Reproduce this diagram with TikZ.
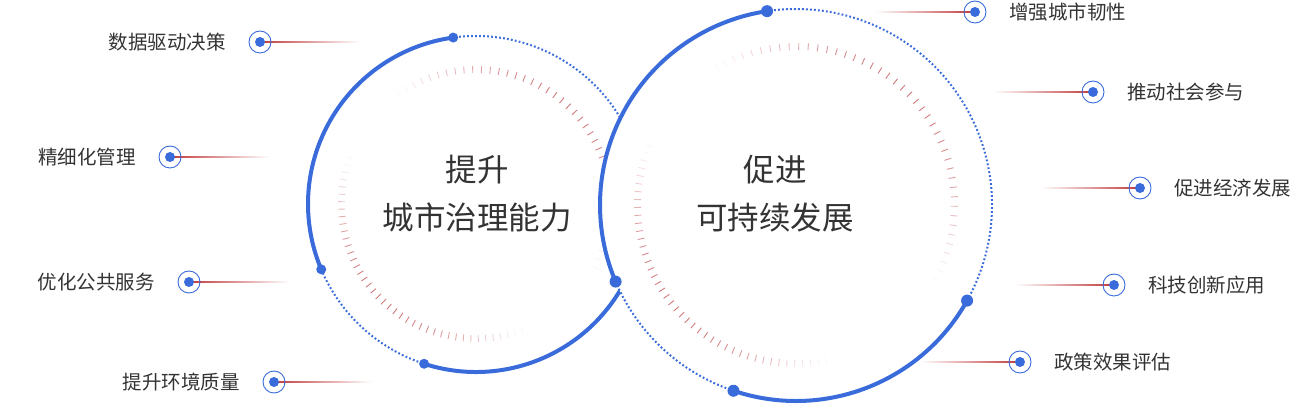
\documentclass[tikz,border=0pt]{standalone}
\usepackage{fontspec}
\setmainfont{Noto Sans CJK SC}
\usetikzlibrary{calc}
\begin{document}
\begin{tikzpicture}[x=1pt,y=1pt,
  ring/.style={circle,draw=cb,line width=0.9pt,minimum size=22pt,inner sep=0pt},
  solidarc/.style={draw=cb,line width=4pt},
  dotarc/.style={draw=cb,line width=2pt,dash pattern=on 1.8pt off 2.2pt},
  lbl/.style={text=tx,font=\fontsize{19.5}{22}\selectfont,inner sep=0pt},
  ttl/.style={text=tx,font=\fontsize{31.5}{48}\selectfont,align=center,inner sep=0pt}]
\definecolor{cb}{HTML}{3A6BDB}
\definecolor{tx}{HTML}{333333}
\definecolor{rd}{HTML}{C0393B}
\definecolor{tk}{HTML}{CC6A6E}
\useasboundingbox (0,0) rectangle (1310,404);
% ---- left circle
\coordinate (L) at (476,200);
\foreach \a/\b in {125/-28,160/290}{
  \foreach \i in {0,...,41}{
    \pgfmathsetmacro\th{\a+(\b-\a)*\i/41}
    \pgfmathsetmacro\op{max(0.05,0.9*sin(180*\i/41))}
    \draw[tk,line width=0.9pt,opacity=\op] ($(L)+(\th:131)$) -- ($(L)+(\th:138)$);
  }}
\draw[solidarc] ($(L)+(97.8:168)$) arc[start angle=97.8,end angle=202.9,radius=168];
\draw[dotarc] ($(L)+(202.9:168)$) arc[start angle=202.9,end angle=252,radius=168];
\draw[solidarc] ($(L)+(252:168)$) arc[start angle=252,end angle=331,radius=168];
\draw[dotarc] ($(L)+(331:168)$) arc[start angle=331,end angle=457.8,radius=168];
\foreach \t in {97.8,202.9,252}{\fill[cb] ($(L)+(\t:168)$) circle (5);}
% ---- right circle
\coordinate (R) at (796,199);
\fill[white] (R) circle (196);
\foreach \a/\b in {120/-28,158/281}{
  \foreach \i in {0,...,43}{
    \pgfmathsetmacro\th{\a+(\b-\a)*\i/43}
    \pgfmathsetmacro\op{max(0.05,0.9*sin(180*\i/43))}
    \draw[tk,line width=0.9pt,opacity=\op] ($(R)+(\th:155)$) -- ($(R)+(\th:162)$);
  }}
\draw[solidarc] ($(R)+(98.5:196)$) arc[start angle=98.5,end angle=203,radius=196];
\draw[dotarc] ($(R)+(203:196)$) arc[start angle=203,end angle=251.4,radius=196];
\draw[solidarc] ($(R)+(251.4:196)$) arc[start angle=251.4,end angle=330.8,radius=196];
\draw[dotarc] ($(R)+(330.8:196)$) arc[start angle=330.8,end angle=458.5,radius=196];
\foreach \t in {98.5,203,251.4,330.8}{\fill[cb] ($(R)+(\t:196)$) circle (6);}
% ---- titles
\node[ttl] (t1) at (477,210) {提升\\城市治理能力};
\node[ttl] (t2) at (775,210) {促进\\可持续发展};
% ---- left markers
\foreach \n/\x/\y/\e/\txt in {a/260/362/360/数据驱动决策,b/170/247/270/精细化管理,c/189/122/290/优化公共服务,d/274/22/372/提升环境质量}{
  \coordinate (e\n) at (\e,\y);
  \shade[left color=rd,right color=white] (\x,\y-0.6) rectangle (\e,\y+0.6);
  \node[ring] (m\n) at (\x,\y) {};
  \fill[cb] (m\n.center) circle (5);
  \node[lbl,anchor=east] (l\n) at (\x-34,\y) {\txt};
}
% ---- right markers
\foreach \n/\x/\y/\e/\txt in {f/975/392/875/增强城市韧性,g/1093/312/993/推动社会参与,h/1140/216/1040/促进经济发展,i/1114/119/1015/科技创新应用,j/1020/42/920/政策效果评估}{
  \coordinate (e\n) at (\e,\y);
  \shade[left color=white,right color=rd] (\e,\y-0.6) rectangle (\x,\y+0.6);
  \node[ring] (m\n) at (\x,\y) {};
  \fill[cb] (m\n.center) circle (5);
  \node[lbl,anchor=west] (l\n) at (\x+34,\y) {\txt};
}
\end{tikzpicture}
\end{document}
